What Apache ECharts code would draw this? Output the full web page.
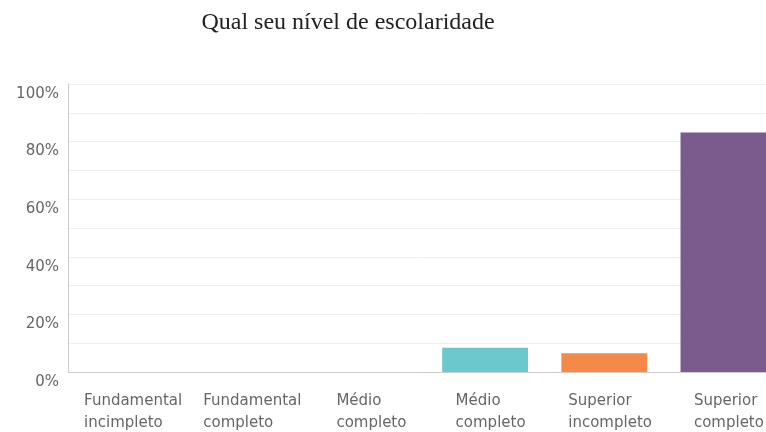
<!DOCTYPE html>
<html><head><meta charset="utf-8">
<script src="https://cdn.jsdelivr.net/npm/echarts@6/dist/echarts.min.js"></script>
<style>html,body{margin:0;padding:0;background:#fff}#c{width:766px;height:432px}</style>
</head><body><div id="c"></div>
<script>
const categories = ['Fundamental\nincimpleto','Fundamental\ncompleto','Médio\ncompleto','Médio\ncompleto','Superior\nincompleto','Superior\ncompleto'];
const values = [0, 0, 0, 8.4, 6.5, 83.2];
const barColors = ['#6bc8cc','#6bc8cc','#6bc8cc','#6bc8cc','#f5894a','#7b5b8d'];
const yTicks = [0, 20, 40, 60, 80, 100];

const FONT = 'DejaVu Sans';
const FS = 15;
const ctx = document.createElement('canvas').getContext('2d');
ctx.font = FS + 'px "' + FONT + '"';
const rich = {};
categories.forEach((c, i) => {
  const w = Math.max(...c.split('\n').map(s => ctx.measureText(s).width));
  rich['l' + i] = {width: Math.ceil(w), padding: [0, 0, 0, 12], align: 'left', fontFamily: FONT, fontSize: FS, color: '#666', lineHeight: 22};
});

const chart = echarts.init(document.getElementById('c'));
chart.setOption({
  animation: false,
  title: {text: 'Qual seu nível de escolaridade', left: 343, top: 6, textAlign: 'center',
    textStyle: {fontFamily: 'Liberation Serif', fontSize: 24, fontWeight: 'normal', color: '#222'}},
  grid: {left: 68, right: -17, top: 84, bottom: 60, containLabel: false, outerBoundsMode: 'none'},
  xAxis: {type: 'category', data: categories,
    axisLine: {lineStyle: {color: '#ccc'}}, axisTick: {show: false},
    axisLabel: {interval: 0, margin: 18, hideOverlap: false,
      formatter: (v, i) => v.split('\n').map(s => '{l' + i + '|' + s + '}').join('\n'), rich: rich}},
  yAxis: {type: 'value', min: 0, max: 100, interval: 10,
    axisLine: {show: true, lineStyle: {color: '#ccc'}}, axisTick: {show: false},
    splitLine: {lineStyle: {color: '#eee'}},
    axisLabel: {margin: 9, verticalAlign: 'top', lineHeight: 20, fontFamily: FONT, fontSize: FS, color: '#666',
      formatter: v => yTicks.includes(v) ? v + '%' : ''}},
  series: [{type: 'bar', barCategoryGap: '28%',
    data: values.map((v, i) => ({value: v, itemStyle: {color: barColors[i]}}))}]
});
</script></body></html>
